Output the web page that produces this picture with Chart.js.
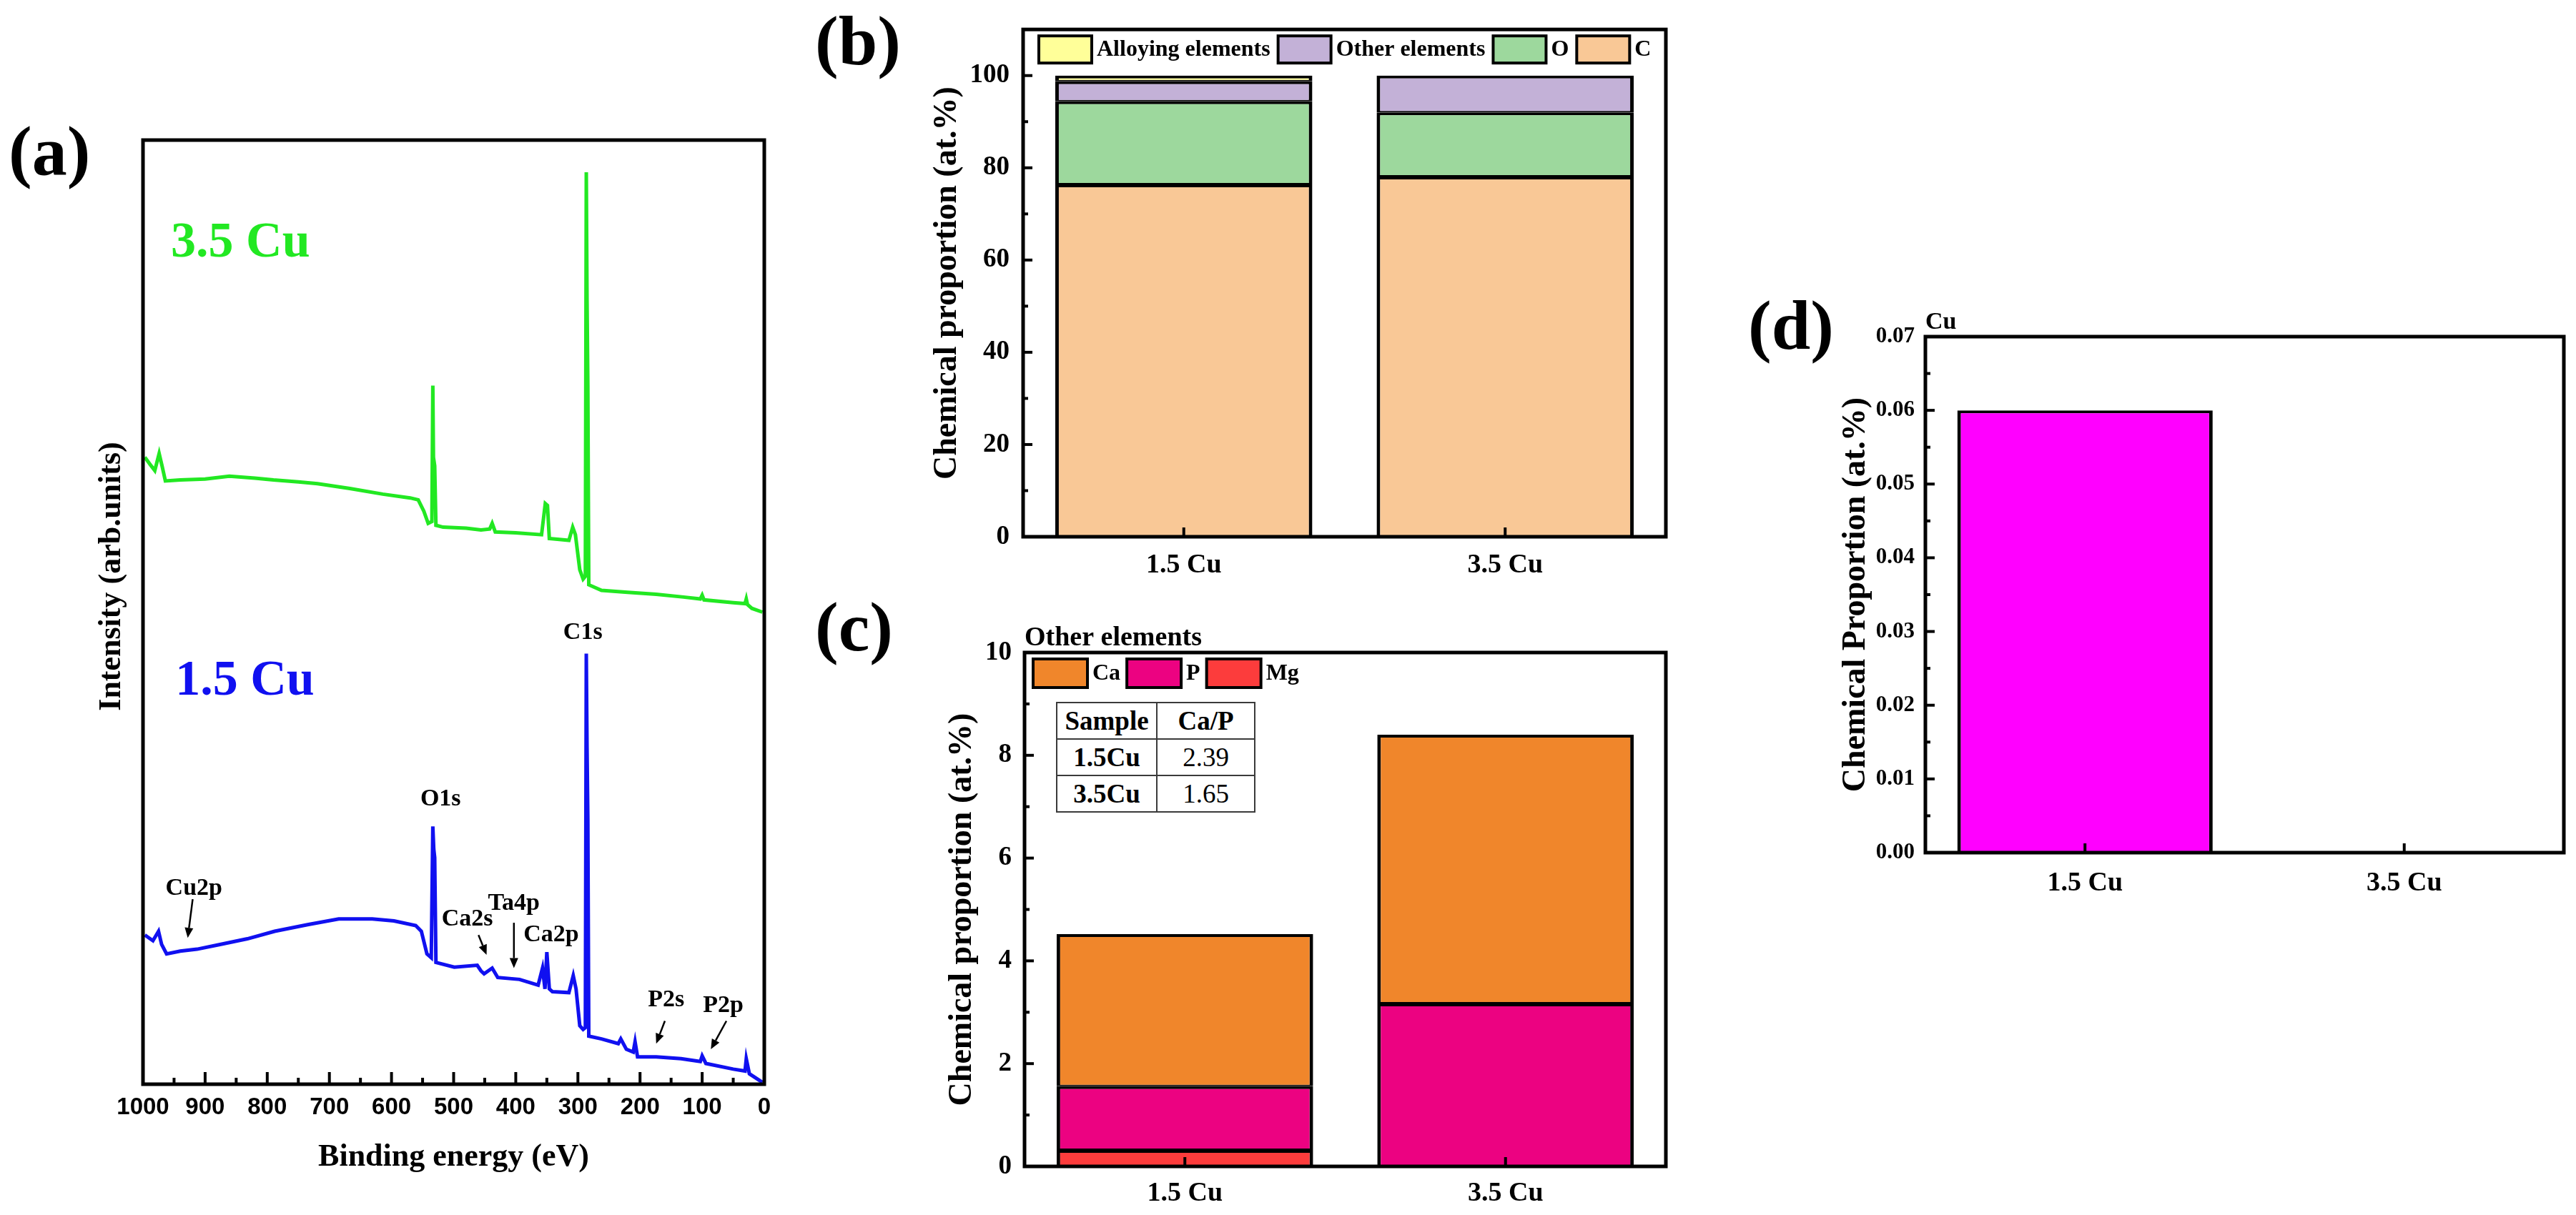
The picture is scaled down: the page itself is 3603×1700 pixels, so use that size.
<!DOCTYPE html>
<html>
<head>
<meta charset="utf-8">
<script src="https://cdn.jsdelivr.net/npm/chart.js@4.4.1/dist/chart.umd.min.js"></script>
<style>
  html, body { margin: 0; padding: 0; background: #fff; }
  body { width: 3603px; height: 1700px; position: relative; overflow: hidden; }
  canvas { position: absolute; }
  .tag { position: absolute; font: bold 98px "Liberation Serif", "Times New Roman", serif; line-height: 1; color: #000; }
  #ratio { position: absolute; left: 1477px; top: 982px; border-collapse: collapse;
           font-family: "Liberation Serif", "Times New Roman", serif; font-size: 37px; background: #fff; }
  #ratio td, #ratio th { border: 2px solid #3a3a3a; height: 49px; padding: 0; text-align: center; line-height: 1; }
  #ratio th, #ratio td.b { font-weight: bold; }
  #ratio td { font-weight: normal; }
</style>
</head>
<body>
<canvas id="xps" width="1130" height="1550" style="left:0px; top:150px"></canvas>
<canvas id="total" width="1200" height="830" style="left:1180px; top:0px"></canvas>
<canvas id="other" width="1200" height="860" style="left:1180px; top:840px"></canvas>
<canvas id="copper" width="1223" height="920" style="left:2380px; top:380px"></canvas>

<div class="tag" style="left:12px; top:162px">(a)</div>
<div class="tag" style="left:1140px; top:8px">(b)</div>
<div class="tag" style="left:1140px; top:828px">(c)</div>
<div class="tag" style="left:2445px; top:406px">(d)</div>

<table id="ratio"></table>

<script>
// ---- data ----
const samples = ['1.5 Cu', '3.5 Cu'];

// (a) XPS survey, binding energy (eV) vs intensity (arb. units, 0-100 = plot height)
const energy35 = [997, 988, 981, 974, 969, 964, 940, 900, 861, 820, 790, 750, 719, 667, 614, 570, 557, 548, 541, 535,
  533.5, 532.5, 530.5, 528.5, 517, 480, 456, 442, 438, 433, 400, 358.5, 352.5, 349, 346, 330, 314.5, 308.4, 304, 297,
  291.6, 288, 286.5, 285.3, 284, 282.5, 262, 220, 174, 130, 103, 100, 97, 50, 31, 29, 27, 20, 3];
const counts35 = [66.4, 65.6, 65.0, 66.8, 65.4, 63.9, 64.0, 64.1, 64.4, 64.2, 64.0, 63.8, 63.6, 63.1, 62.5, 62.1, 61.9, 60.7, 59.4, 59.6,
  74.0, 66.4, 65.5, 59.2, 59.0, 58.9, 58.7, 58.8, 59.4, 58.5, 58.4, 58.2, 61.5, 61.3, 57.8, 57.7, 57.6, 59.0, 58.2, 54.5,
  53.5, 53.8, 96.6, 83.0, 74.0, 52.9, 52.3, 52.1, 51.9, 51.6, 51.4, 51.8, 51.3, 51.0, 50.9, 51.4, 50.8, 50.4, 50.0];

const energy15 = [997, 984, 975, 970, 962, 940, 913, 876, 832, 788, 735, 685, 631, 596, 561, 552, 543, 536,
  533.5, 532, 530.5, 528.5, 499, 462, 456, 451, 438, 429, 394, 364, 357, 353, 350, 346, 341, 314.5, 307.5, 303, 297,
  291.6, 288, 286.5, 285.3, 284, 282.5, 262, 235, 231, 222, 211, 208, 204, 174, 134, 103, 100, 94, 50, 31, 29, 24, 3];
const counts15 = [15.8, 15.2, 16.2, 14.8, 13.8, 14.1, 14.3, 14.8, 15.4, 16.2, 16.9, 17.5, 17.5, 17.3, 16.8, 16.2, 13.8, 13.4,
  27.3, 24.9, 24.0, 12.9, 12.4, 12.6, 12.0, 11.7, 12.3, 11.3, 11.1, 10.5, 12.3, 10.1, 14.0, 10.1, 9.8, 9.7, 11.5, 10.1, 6.2,
  5.8, 6.0, 45.6, 35.7, 28.0, 5.1, 4.8, 4.3, 4.8, 3.7, 3.4, 4.5, 2.9, 2.9, 2.7, 2.4, 3.0, 2.2, 1.6, 1.4, 2.7, 1.1, 0.2];

// (b) chemical proportion (at.%)
const carbon = [76.4, 78.1];
const oxygen = [18.0, 13.9];
const otherElements = [4.35, 8.0];
const alloyingElements = [1.25, 0];

// (c) other elements (at.%)
const calcium = [2.96, 5.23];
const phosphorus = [1.24, 3.17];
const magnesium = [0.32, 0];
const ratioSamples = ['1.5Cu', '3.5Cu'];
const caPRatio = ['2.39', '1.65'];

// (d) Cu (at.%)
const copper = [0.06, 0];

// peak annotations of (a): label anchor and optional arrow, in (eV, intensity)
const peakNotes = [
  { name: 'C1s',  at: [292, 47.8] },
  { name: 'O1s',  at: [521, 30.2] },
  { name: 'Cu2p', at: [918, 20.7], arrow: [[920, 19.6], [928, 15.5]] },
  { name: 'Ca2s', at: [478, 17.5], arrow: [[460, 15.8], [447, 13.7]] },
  { name: 'Ta4p', at: [403, 19.1], arrow: [[403, 17.1], [403, 12.3]] },
  { name: 'Ca2p', at: [343, 15.8] },
  { name: 'P2s',  at: [158, 8.9],  arrow: [[160, 6.7], [174, 4.3]] },
  { name: 'P2p',  at: [66, 8.3],   arrow: [[61, 6.7], [86, 3.7]] },
];

const SERIF = '"Liberation Serif", "Times New Roman", serif';
const SANS = '"Liberation Sans", Arial, sans-serif';
const GREEN = '#22E822';
const BLUE = '#1010F0';

const sampleTags = [
  { text: '3.5 Cu', at: [955, 89.0], color: GREEN },
  { text: '1.5 Cu', at: [948, 42.6], color: BLUE },
];

// ---- plugins ----
// box around the plot area plus inward tick marks
const framePlugin = {
  id: 'frame',
  afterDatasetsDraw(chart, args, opts) {
    const { ctx, chartArea: a, scales } = chart;
    ctx.save();
    ctx.strokeStyle = '#000';
    ctx.lineWidth = opts.tickWidth || 4;
    (opts.marks || []).forEach(m => {
      const s = scales[m.axis];
      const marks = [];
      if (s.type === 'category') {
        s.ticks.forEach((t, i) => marks.push([s.getPixelForTick(i), m.major]));
      } else {
        const vals = s.ticks.map(t => t.value);
        vals.forEach((v, i) => {
          marks.push([s.getPixelForValue(v), m.major]);
          if (m.minor && i < vals.length - 1) marks.push([s.getPixelForValue((v + vals[i + 1]) / 2), m.minor]);
        });
      }
      marks.forEach(([p, len]) => {
        ctx.beginPath();
        if (s.isHorizontal()) { ctx.moveTo(p, a.bottom); ctx.lineTo(p, a.bottom - len); }
        else { ctx.moveTo(a.left, p); ctx.lineTo(a.left + len, p); }
        ctx.stroke();
      });
    });
    ctx.lineWidth = opts.lineWidth || 5;
    ctx.strokeRect(a.left, a.top, a.right - a.left, a.bottom - a.top);
    ctx.restore();
  }
};

// legend drawn inside the plot, first item = top of the stack
const boxLegendPlugin = {
  id: 'boxLegend',
  afterDraw(chart, args, opts) {
    if (!opts.show) return;
    const { ctx, chartArea: a } = chart;
    let x = a.left + opts.x;
    const y = a.top + opts.y;
    ctx.save();
    ctx.font = opts.font;
    ctx.textBaseline = 'middle';
    ctx.textAlign = 'left';
    chart.data.datasets.slice().reverse().forEach(ds => {
      ctx.fillStyle = ds.backgroundColor;
      ctx.fillRect(x, y, opts.w, opts.h);
      ctx.lineWidth = 4;
      ctx.strokeStyle = '#000';
      ctx.strokeRect(x, y, opts.w, opts.h);
      ctx.fillStyle = '#000';
      ctx.fillText(ds.label, x + opts.w + opts.gap, y + opts.h / 2 + 1);
      x += opts.w + opts.gap + ctx.measureText(ds.label).width + opts.itemGap;
    });
    ctx.restore();
  }
};

// small caption above the top-left corner of the plot
const captionPlugin = {
  id: 'caption',
  afterDraw(chart, args, opts) {
    if (!opts.text) return;
    const { ctx, chartArea: a } = chart;
    ctx.save();
    ctx.font = opts.font;
    ctx.fillStyle = '#000';
    ctx.textAlign = 'left';
    ctx.textBaseline = 'alphabetic';
    ctx.fillText(opts.text, a.left, a.top - opts.dy);
    ctx.restore();
  }
};

function drawArrow(ctx, x0, y0, x1, y1) {
  const ang = Math.atan2(y1 - y0, x1 - x0);
  const head = 14, half = 6;
  ctx.beginPath();
  ctx.moveTo(x0, y0);
  ctx.lineTo(x1 - head * Math.cos(ang), y1 - head * Math.sin(ang));
  ctx.stroke();
  ctx.beginPath();
  ctx.moveTo(x1, y1);
  ctx.lineTo(x1 - head * Math.cos(ang) + half * Math.sin(ang), y1 - head * Math.sin(ang) - half * Math.cos(ang));
  ctx.lineTo(x1 - head * Math.cos(ang) - half * Math.sin(ang), y1 - head * Math.sin(ang) + half * Math.cos(ang));
  ctx.closePath();
  ctx.fill();
}

// sample names, peak labels and the y title of the spectrum panel
const xpsNotesPlugin = {
  id: 'xpsNotes',
  afterDraw(chart) {
    const { ctx, chartArea: a, scales: { x, y } } = chart;
    ctx.save();
    ctx.textBaseline = 'middle';
    ctx.textAlign = 'left';
    ctx.font = `bold 70px ${SERIF}`;
    sampleTags.forEach(t => {
      ctx.fillStyle = t.color;
      ctx.fillText(t.text, x.getPixelForValue(t.at[0]), y.getPixelForValue(t.at[1]));
    });
    ctx.font = `bold 34px ${SERIF}`;
    ctx.fillStyle = '#000';
    ctx.strokeStyle = '#000';
    ctx.lineWidth = 2.5;
    ctx.textAlign = 'center';
    peakNotes.forEach(p => {
      ctx.fillText(p.name, x.getPixelForValue(p.at[0]), y.getPixelForValue(p.at[1]));
      if (p.arrow) {
        const [s, e] = p.arrow;
        drawArrow(ctx, x.getPixelForValue(s[0]), y.getPixelForValue(s[1]),
                       x.getPixelForValue(e[0]), y.getPixelForValue(e[1]));
      }
    });
    ctx.translate(a.left - 43, (a.top + a.bottom) / 2 - 50);
    ctx.rotate(-Math.PI / 2);
    ctx.font = `bold 44px ${SERIF}`;
    ctx.fillText('Intensity (arb.units)', 0, 0);
    ctx.restore();
  }
};

const toPoints = (xs, ys) => xs.map((v, i) => ({ x: v, y: ys[i] }));

// ---- (a) survey spectra ----
new Chart(document.getElementById('xps'), {
  type: 'line',
  data: {
    datasets: [
      { label: '3.5 Cu', data: toPoints(energy35, counts35), borderColor: GREEN, borderWidth: 5, pointRadius: 0, tension: 0 },
      { label: '1.5 Cu', data: toPoints(energy15, counts15), borderColor: BLUE, borderWidth: 5, pointRadius: 0, tension: 0 },
    ]
  },
  options: {
    responsive: false, animation: false, devicePixelRatio: 1,
    layout: { padding: { top: 46, right: 61, left: 0, bottom: 0 } },
    plugins: {
      legend: { display: false }, tooltip: { enabled: false },
      frame: { marks: [{ axis: 'x', major: 17, minor: 9 }], lineWidth: 5, tickWidth: 4 },
    },
    scales: {
      x: {
        type: 'linear', min: 0, max: 1000, reverse: true,
        grid: { display: false, drawTicks: false }, border: { display: false },
        ticks: { stepSize: 100, color: '#000', padding: 13, maxRotation: 0, autoSkip: false,
                 font: { family: SANS, size: 33, weight: 'bold' }, callback: v => String(v) },
        title: { display: true, text: 'Binding energy (eV)', color: '#000',
                 font: { family: SERIF, size: 44, weight: 'bold', lineHeight: 1.2 }, padding: { top: 0, bottom: 54 } },
        afterFit(s) { s.height = 183; }
      },
      y: {
        min: 0, max: 100,
        grid: { display: false, drawTicks: false }, border: { display: false },
        ticks: { display: false },
        afterFit(s) { s.width = 200; }
      }
    }
  },
  plugins: [framePlugin, xpsNotesPlugin]
});

// ---- stacked bar panels ----
function barPanel(id, datasets, cfg) {
  return new Chart(document.getElementById(id), {
    type: 'bar',
    data: {
      labels: samples,
      datasets: datasets.map(d => ({
        label: d.label, data: d.data, backgroundColor: d.color,
        borderColor: '#000', borderWidth: { top: 4, bottom: 2, left: 5, right: 5 }, borderSkipped: false,
        categoryPercentage: 0.8, barPercentage: 1.0
      }))
    },
    options: {
      responsive: false, animation: false, devicePixelRatio: 1,
      layout: { padding: { top: cfg.padTop, right: cfg.padRight, left: 0, bottom: 0 } },
      plugins: {
        legend: { display: false }, tooltip: { enabled: false },
        frame: { marks: [{ axis: 'x', major: 13 }, { axis: 'y', major: 13, minor: 7 }], lineWidth: 5, tickWidth: 4 },
        boxLegend: cfg.legend || { show: false },
        caption: cfg.caption || {}
      },
      scales: {
        x: {
          stacked: true, offset: true,
          grid: { display: false, drawTicks: false }, border: { display: false },
          ticks: { color: '#000', padding: cfg.xPad, maxRotation: 0, autoSkip: false,
                   font: { family: SERIF, size: 38, weight: 'bold' } },
          afterFit(s) { s.height = cfg.xH; }
        },
        y: {
          stacked: true, min: 0, max: cfg.yMax,
          grid: { display: false, drawTicks: false }, border: { display: false },
          ticks: { stepSize: cfg.step, includeBounds: false, color: '#000', padding: cfg.yPad,
                   font: { family: SERIF, size: cfg.yFont, weight: 'bold' }, callback: cfg.fmt },
          title: { display: true, text: cfg.title, color: '#000',
                   font: { family: SERIF, size: 46, weight: 'bold', lineHeight: 1.2 },
                   padding: { top: cfg.titlePad, bottom: 0 } },
          afterFit(s) { s.width = cfg.yW; }
        }
      }
    },
    plugins: [framePlugin, boxLegendPlugin, captionPlugin]
  });
}

const legendFont = `bold 32px ${SERIF}`;

barPanel('total', [
  { label: 'C', data: carbon, color: '#F9C896' },
  { label: 'O', data: oxygen, color: '#9DD89D' },
  { label: 'Other elements', data: otherElements, color: '#C3B1D7' },
  { label: 'Alloying elements', data: alloyingElements, color: '#FFFF99' },
], {
  padTop: 31, padRight: 50, yW: 251, xH: 79, xPad: 17, yPad: 19, yFont: 37,
  yMax: 110, step: 20, fmt: v => String(v), titlePad: 118,
  title: 'Chemical proportion (at.%)',
  legend: { show: true, x: 22, y: 9, w: 74, h: 38, gap: 7, itemGap: 11, font: legendFont }
});

barPanel('other', [
  { label: 'Mg', data: magnesium, color: '#FC3C3C' },
  { label: 'P', data: phosphorus, color: '#EC0281' },
  { label: 'Ca', data: calcium, color: '#F0862B' },
], {
  padTop: 73, padRight: 50, yW: 253, xH: 68, xPad: 15, yPad: 18, yFont: 37,
  yMax: 10, step: 2, fmt: v => String(v), titlePad: 139,
  title: 'Chemical proportion (at.%)',
  legend: { show: true, x: 12, y: 9, w: 76, h: 40, gap: 7, itemGap: 9, font: legendFont },
  caption: { text: 'Other elements', font: `bold 38px ${SERIF}`, dy: 10 }
});

barPanel('copper', [
  { label: 'Cu', data: copper, color: '#FF00FF' },
], {
  padTop: 91, padRight: 17, yW: 313, xH: 107, xPad: 20, yPad: 15, yFont: 31,
  yMax: 0.07, step: 0.01, fmt: v => v.toFixed(2), titlePad: 189,
  title: 'Chemical Proportion (at.%)',
  caption: { text: 'Cu', font: `bold 34px ${SERIF}`, dy: 11 }
});

// ---- Ca/P table of (c) ----
const table = document.getElementById('ratio');
const head = table.insertRow();
['Sample', 'Ca/P'].forEach((t, i) => {
  const th = document.createElement('th');
  th.textContent = t;
  th.style.width = i === 0 ? '138px' : '135px';
  head.appendChild(th);
});
ratioSamples.forEach((s, i) => {
  const row = table.insertRow();
  const c0 = row.insertCell(); c0.textContent = s; c0.className = 'b';
  const c1 = row.insertCell(); c1.textContent = caPRatio[i];
});
</script>
</body>
</html>
